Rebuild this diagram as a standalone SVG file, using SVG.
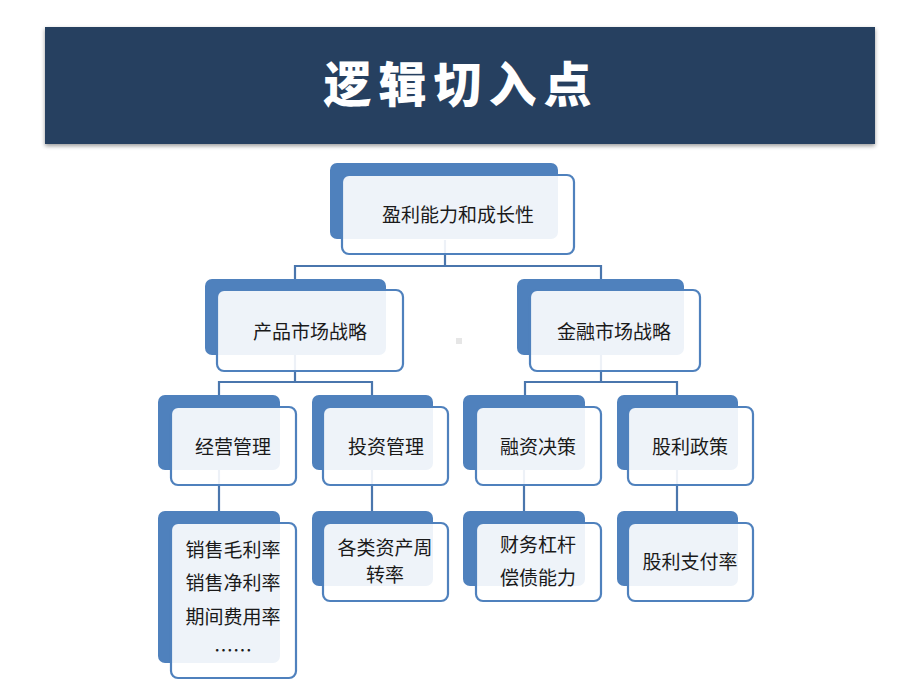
<svg xmlns="http://www.w3.org/2000/svg" width="920" height="690" viewBox="0 0 920 690">
<defs>
<filter id="sh" x="-5%" y="-10%" width="110%" height="130%">
<feGaussianBlur in="SourceAlpha" stdDeviation="2"/>
<feOffset dx="0" dy="2"/>
<feComponentTransfer><feFuncA type="linear" slope="0.4"/></feComponentTransfer>
<feMerge><feMergeNode/><feMergeNode in="SourceGraphic"/></feMerge>
</filter>
</defs>
<style>
.back{fill:#4f81bd}
.front{fill:#ffffff;fill-opacity:0.9;stroke:#4f81bd;stroke-width:2.2}
.t{font-family:"Noto Sans CJK SC","Liberation Sans",sans-serif;font-size:19px;fill:#1a1a1a;text-anchor:middle}
.c{fill:none;stroke:#4a76ad;stroke-width:2.2}
</style>
<rect width="920" height="690" fill="#ffffff"/>
<g id="title">
<rect x="45" y="27" width="830" height="117" fill="#253f61" filter="url(#sh)"/>
<text x="461" y="102" font-family="'Noto Sans CJK SC',sans-serif" font-weight="900" font-size="48" fill="#ffffff" text-anchor="middle" letter-spacing="7">逻辑切入点</text>
</g>
<rect x="456" y="338" width="6" height="6" fill="#e6e6e6"/>
<g id="connectors">
<path class="c" d="M445 240V266M295 280V266H601V280"/>
<path class="c" d="M295 355V382M219 396V382H372V396"/>
<path class="c" d="M601 355V382M525 396V382H677V396"/>
<path class="c" d="M219 470V512"/>
<path class="c" d="M372 470V512"/>
<path class="c" d="M524 470V512"/>
<path class="c" d="M677 470V512"/>
</g>
<g id="n-top">
<rect class="back" x="330" y="163" width="228" height="76" rx="7"/>
<rect class="front" x="342" y="175" width="232" height="79" rx="7"/>
<text class="t" x="458" y="222" font-size="20">盈利能力和成长性</text>
</g>
<g id="n-product">
<rect class="back" x="205" y="279" width="181" height="76" rx="7"/>
<rect class="front" x="217" y="290" width="186" height="81" rx="7"/>
<text class="t" x="310" y="339">产品市场战略</text>
</g>
<g id="n-finance">
<rect class="back" x="517" y="279" width="167" height="76" rx="7"/>
<rect class="front" x="530" y="290" width="170" height="81" rx="7"/>
<text class="t" x="614" y="339">金融市场战略</text>
</g>
<g id="n-operate">
<rect class="back" x="158" y="395" width="122" height="75" rx="7"/>
<rect class="front" x="171" y="407" width="125" height="78" rx="7"/>
<text class="t" x="233" y="454">经营管理</text>
</g>
<g id="n-invest">
<rect class="back" x="312" y="395" width="121" height="75" rx="7"/>
<rect class="front" x="323" y="407" width="125" height="78" rx="7"/>
<text class="t" x="386" y="454">投资管理</text>
</g>
<g id="n-financing">
<rect class="back" x="463" y="395" width="122" height="75" rx="7"/>
<rect class="front" x="476" y="407" width="125" height="78" rx="7"/>
<text class="t" x="538" y="454">融资决策</text>
</g>
<g id="n-dividend">
<rect class="back" x="617" y="395" width="121" height="75" rx="7"/>
<rect class="front" x="628" y="407" width="125" height="78" rx="7"/>
<text class="t" x="690" y="454">股利政策</text>
</g>
<g id="n-margin">
<rect class="back" x="158" y="511" width="122" height="152" rx="7"/>
<rect class="front" x="171" y="523" width="125" height="155" rx="7"/>
<text class="t" x="233" y="557">销售毛利率</text>
<text class="t" x="233" y="590">销售净利率</text>
<text class="t" x="233" y="624">期间费用率</text>
<text class="t" x="233" y="658" font-size="14">……</text>
</g>
<g id="n-turnover">
<rect class="back" x="312" y="511" width="121" height="75" rx="7"/>
<rect class="front" x="323" y="523" width="125" height="78" rx="7"/>
<text class="t" x="385" y="555" font-size="18">各类资产周</text>
<text class="t" x="385" y="582" font-size="18">转率</text>
</g>
<g id="n-leverage">
<rect class="back" x="463" y="511" width="122" height="75" rx="7"/>
<rect class="front" x="476" y="523" width="125" height="78" rx="7"/>
<text class="t" x="538" y="552">财务杠杆</text>
<text class="t" x="538" y="585">偿债能力</text>
</g>
<g id="n-payout">
<rect class="back" x="617" y="511" width="121" height="75" rx="7"/>
<rect class="front" x="628" y="523" width="125" height="78" rx="7"/>
<text class="t" x="690" y="569">股利支付率</text>
</g>
</svg>
